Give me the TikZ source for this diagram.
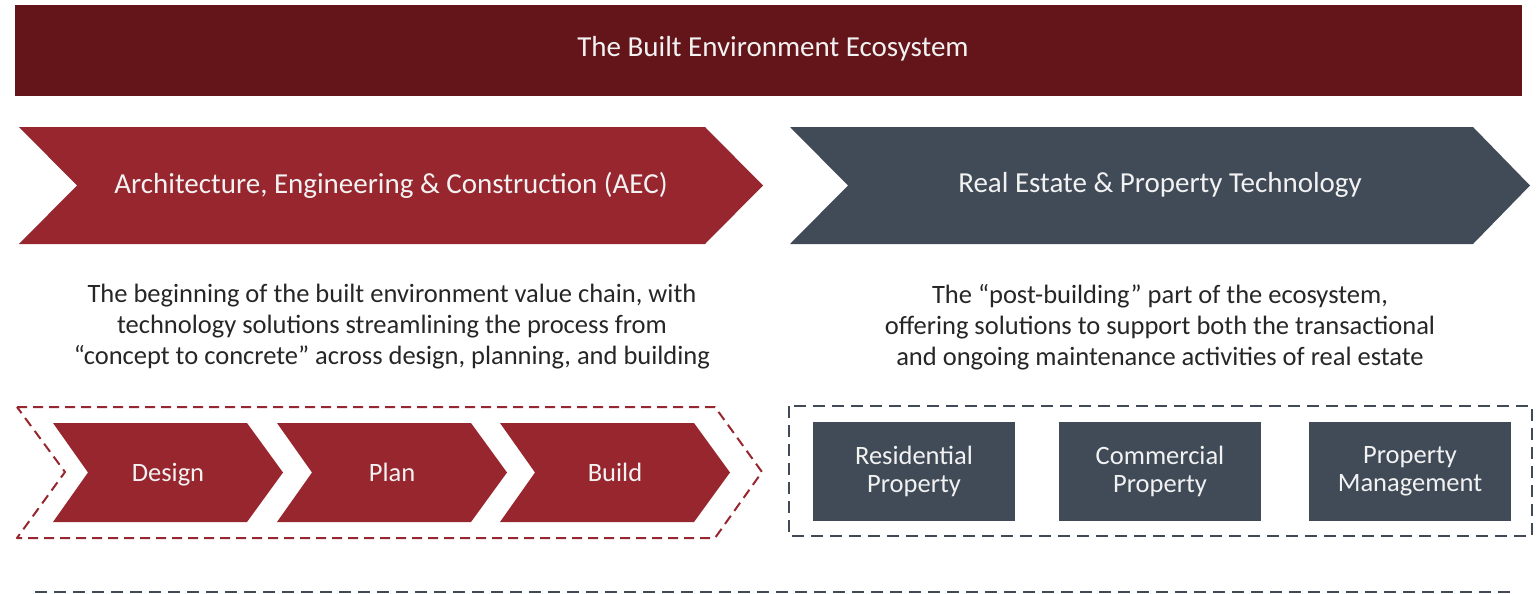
\documentclass[tikz,border=0pt]{standalone}
\usepackage{fontspec}
\setmainfont{Carlito}
\usetikzlibrary{positioning}
\definecolor{titlered}{RGB}{99,21,26}
\definecolor{aecred}{RGB}{151,38,46}
\definecolor{slate}{RGB}{65,75,88}
\definecolor{paleword}{RGB}{242,242,242}
\begin{document}
\begin{tikzpicture}[x=1pt,y=-1pt]
\tikzstyle{banner}=[text=paleword,font=\fontsize{29}{34}\selectfont,inner sep=0pt]
\tikzstyle{step label}=[text=paleword,font=\fontsize{26.5}{28}\selectfont,inner sep=0pt,align=center]
\tikzstyle{blurb}=[text=black!85,font=\fontsize{26.5}{31}\selectfont,align=center,inner sep=0pt]
\tikzstyle{segment}=[fill=slate,minimum width=202pt,minimum height=99pt,inner sep=0pt]
\useasboundingbox (0,0) rectangle (1537,594);
% title bar
\node[banner,fill=titlered,minimum width=1507pt,minimum height=91pt] (title) at (768.5,50.5) {};
\node[banner] (titletext) at (773,49) {The Built Environment Ecosystem};
% the two big chevrons
\fill[aecred] (19,127) -- (705,127) -- (763,185.5) -- (705,244) -- (19,244) -- (77,185.5) -- cycle;
\node[banner] (aec) at (391,185) {Architecture, Engineering \& Construction (AEC)};
\fill[slate] (790,127) -- (1473,127) -- (1530,185.5) -- (1473,244) -- (790,244) -- (848,185.5) -- cycle;
\node[banner] (prop) at (1160,185) {Real Estate \& Property Technology};
% descriptions
\node[blurb] (aecblurb) at (392,327) {The beginning of the built environment value chain, with\\
technology solutions streamlining the process from\\
“concept to concrete” across design, planning, and building};
\node[blurb] (propblurb) at (1160,327) {The “post-building” part of the ecosystem,\\
offering solutions to support both the transactional\\
and ongoing maintenance activities of real estate};
% AEC steps
\draw[aecred,line width=2pt,dash pattern=on 10pt off 6pt,line join=round]
  (17,407) -- (715,407) -- (762,472) -- (715,538) -- (17,538) -- (65,472) -- cycle;
\foreach \name/\x/\txt in {design/53/Design,plan/277/Plan,build/500/Build}{
  \fill[aecred] (\x,423) -- (\x+194,423) -- (\x+230,472.5) -- (\x+194,522) -- (\x,522) -- (\x+35,472.5) -- cycle;
  \node[step label,anchor=base] (\name) at (\x+115,481) {\txt};
}
% property segments
\draw[slate,line width=2pt,dash pattern=on 12pt off 7pt] (789,406) rectangle (1532,536);
\foreach \name/\x/\txt in {resi/914/{Residential\\Property},comm/1160/{Commercial\\Property},mgmt/1410/{Property\\Management}}
  \node[segment,step label] (\name) at (\x,471.5) {\txt};
% bottom rule
\draw[slate,line width=1.5pt,dash pattern=on 12pt off 7pt] (35,592) -- (1512,592);
\end{tikzpicture}
\end{document}
